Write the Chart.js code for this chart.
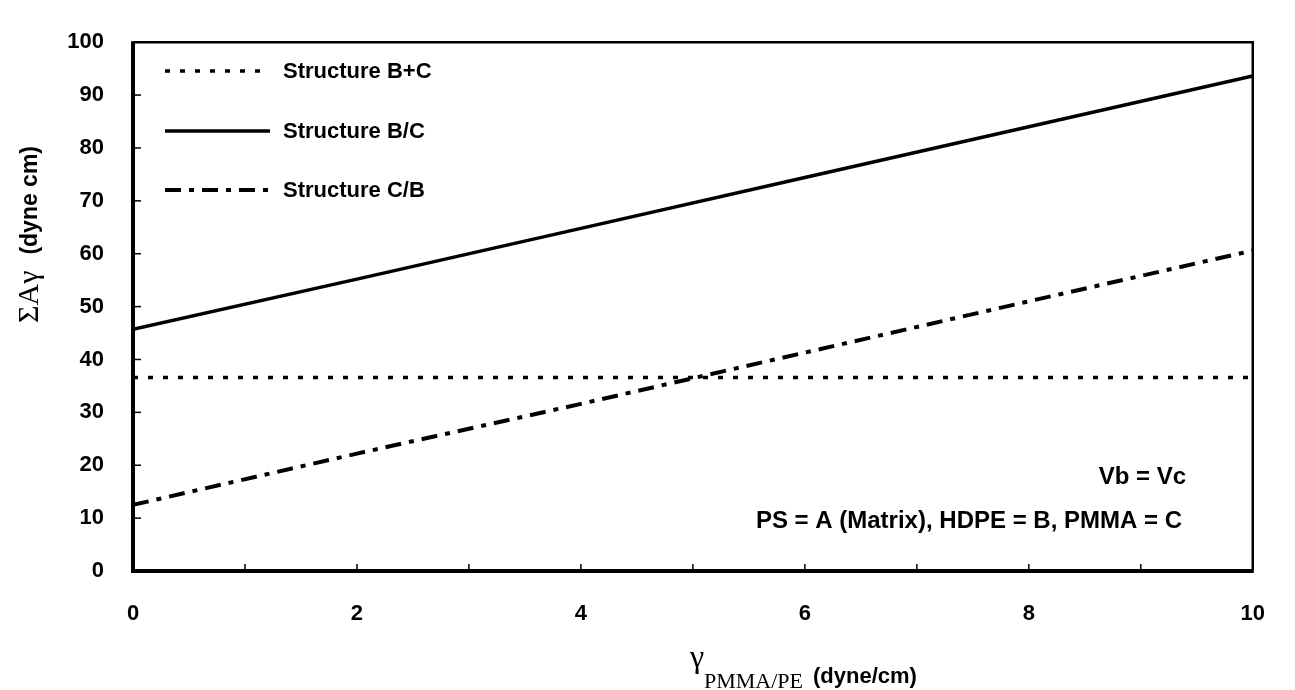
<!DOCTYPE html>
<html>
<head>
<meta charset="utf-8">
<title>Sum of A gamma vs gamma PMMA/PE</title>
<script src="https://cdn.jsdelivr.net/npm/chart.js@4.4.0/dist/chart.umd.min.js"></script>
<style>
  html, body { margin: 0; padding: 0; background: #fff; }
  #wrap { width: 1295px; height: 690px; }
</style>
</head>
<body>
<div id="wrap"><canvas id="sumChart" width="1295" height="690"></canvas></div>
<script>
// values
const gammaValues = [0, 2, 4, 6, 8, 10];
const structBplusC = [36.6, 36.6, 36.6, 36.6, 36.6, 36.6];
const structBoverC = [45.7, 55.2, 64.8, 74.4, 84.0, 93.6];
const structCoverB = [12.5, 22.2, 31.6, 41.3, 51.0, 60.6];
const seriesNames = ['Structure B+C', 'Structure B/C', 'Structure C/B'];
const xTickLabels = ['0', '2', '4', '6', '8', '10'];
const yTickValues = [0, 10, 20, 30, 40, 50, 60, 70, 80, 90, 100];
const xMinorTicks = [1, 2, 3, 4, 5, 6, 7, 8, 9];

const SANS = "'Liberation Sans', Arial, sans-serif";
const SERIF = "'Liberation Serif', 'Times New Roman', serif";

function toPoints(ys) {
    return gammaValues.map((g, i) => ({ x: g, y: ys[i] }));
}

// frame, inward ticks, legend, notes and axis titles
const decorations = {
    id: 'decorations',
    afterDatasetsDraw(chart) {
        const { ctx, chartArea: a, scales: { x, y } } = chart;
        ctx.save();
        ctx.strokeStyle = '#000';
        ctx.fillStyle = '#000';
        ctx.setLineDash([]);

        // top / right border (thin)
        ctx.lineWidth = 2.5;
        ctx.beginPath();
        ctx.moveTo(a.left, a.top);
        ctx.lineTo(a.right, a.top);
        ctx.lineTo(a.right, a.bottom);
        ctx.stroke();

        // left / bottom axis (thick)
        ctx.lineWidth = 4;
        ctx.beginPath();
        ctx.moveTo(a.left, a.top - 1);
        ctx.lineTo(a.left, a.bottom);
        ctx.lineTo(a.right + 1, a.bottom);
        ctx.stroke();

        // ticks pointing inside
        ctx.lineWidth = 1.5;
        xMinorTicks.forEach(v => {
            const px = x.getPixelForValue(v);
            ctx.beginPath();
            ctx.moveTo(px, a.bottom);
            ctx.lineTo(px, a.bottom - 7);
            ctx.stroke();
        });
        yTickValues.slice(1, -1).forEach(v => {
            const py = y.getPixelForValue(v);
            ctx.beginPath();
            ctx.moveTo(a.left, py);
            ctx.lineTo(a.left + 8, py);
            ctx.stroke();
        });

        // legend inside plot
        const rows = [71, 131, 190];
        chart.data.datasets.forEach((ds, i) => {
            ctx.lineWidth = ds.borderWidth;
            ctx.setLineDash(ds.borderDash || []);
            ctx.beginPath();
            ctx.moveTo(165, rows[i]);
            ctx.lineTo(270, rows[i]);
            ctx.stroke();
            ctx.setLineDash([]);
            ctx.font = 'bold 22px ' + SANS;
            ctx.textAlign = 'left';
            ctx.textBaseline = 'middle';
            ctx.fillText(ds.label, 283, rows[i] + 1);
        });

        // notes
        ctx.font = 'bold 24px ' + SANS;
        ctx.textAlign = 'right';
        ctx.textBaseline = 'middle';
        ctx.fillText('Vb = Vc', 1186, 477);
        ctx.fillText('PS = A (Matrix), HDPE = B, PMMA = C', 1182, 521);

        // x axis title: gamma with subscript
        ctx.textAlign = 'left';
        ctx.textBaseline = 'alphabetic';
        ctx.font = '32px ' + SERIF;
        ctx.fillText('\u03B3', 690, 667);
        ctx.font = '22px ' + SERIF;
        ctx.fillText('PMMA/PE', 704, 688);
        ctx.font = 'bold 22px ' + SANS;
        ctx.fillText('(dyne/cm)', 813, 683);

        // y axis title, rotated
        ctx.translate(38, 323);
        ctx.rotate(-Math.PI / 2);
        ctx.font = '30px ' + SERIF;
        ctx.fillText('\u03A3A\u03B3', 0, 0);
        const w = ctx.measureText('\u03A3A\u03B3').width;
        ctx.font = 'bold 23px ' + SANS;
        ctx.fillText('(dyne cm)', w + 16, -1);
        ctx.restore();
    }
};

const chart = new Chart(document.getElementById('sumChart'), {
    type: 'line',
    data: {
        datasets: [
            {
                label: seriesNames[0],
                data: toPoints(structBplusC),
                borderColor: '#000',
                borderWidth: 3.5,
                borderDash: [5, 10],
                pointRadius: 0,
                fill: false,
                tension: 0
            },
            {
                label: seriesNames[1],
                data: toPoints(structBoverC),
                borderColor: '#000',
                borderWidth: 3.5,
                pointRadius: 0,
                fill: false,
                tension: 0
            },
            {
                label: seriesNames[2],
                data: toPoints(structCoverB),
                borderColor: '#000',
                borderWidth: 4,
                borderDash: [16, 8, 5, 8],
                pointRadius: 0,
                fill: false,
                tension: 0
            }
        ]
    },
    options: {
        responsive: false,
        animation: false,
        devicePixelRatio: 1,
        layout: {
            padding: { left: 0, top: 23, right: 17, bottom: 0 }
        },
        plugins: {
            legend: { display: false },
            tooltip: { enabled: false }
        },
        scales: {
            x: {
                type: 'linear',
                min: 0,
                max: 10,
                grid: { display: false, drawTicks: false },
                border: { display: false },
                afterFit: s => { s.height = 119; },
                afterBuildTicks: s => {
                    s.ticks = gammaValues.map(v => ({ value: v }));
                },
                ticks: {
                    autoSkip: false,
                    maxRotation: 0,
                    padding: 30,
                    color: '#000',
                    font: { family: SANS, size: 22, weight: 'bold' },
                    callback: (v, i) => xTickLabels[i]
                }
            },
            y: {
                min: 0,
                max: 100,
                grid: { display: false, drawTicks: false },
                border: { display: false },
                afterFit: s => { s.width = 133; },
                afterBuildTicks: s => {
                    s.ticks = yTickValues.map(v => ({ value: v }));
                },
                ticks: {
                    padding: 29,
                    color: '#000',
                    font: { family: SANS, size: 22, weight: 'bold' }
                }
            }
        }
    },
    plugins: [decorations]
});
</script>
</body>
</html>
